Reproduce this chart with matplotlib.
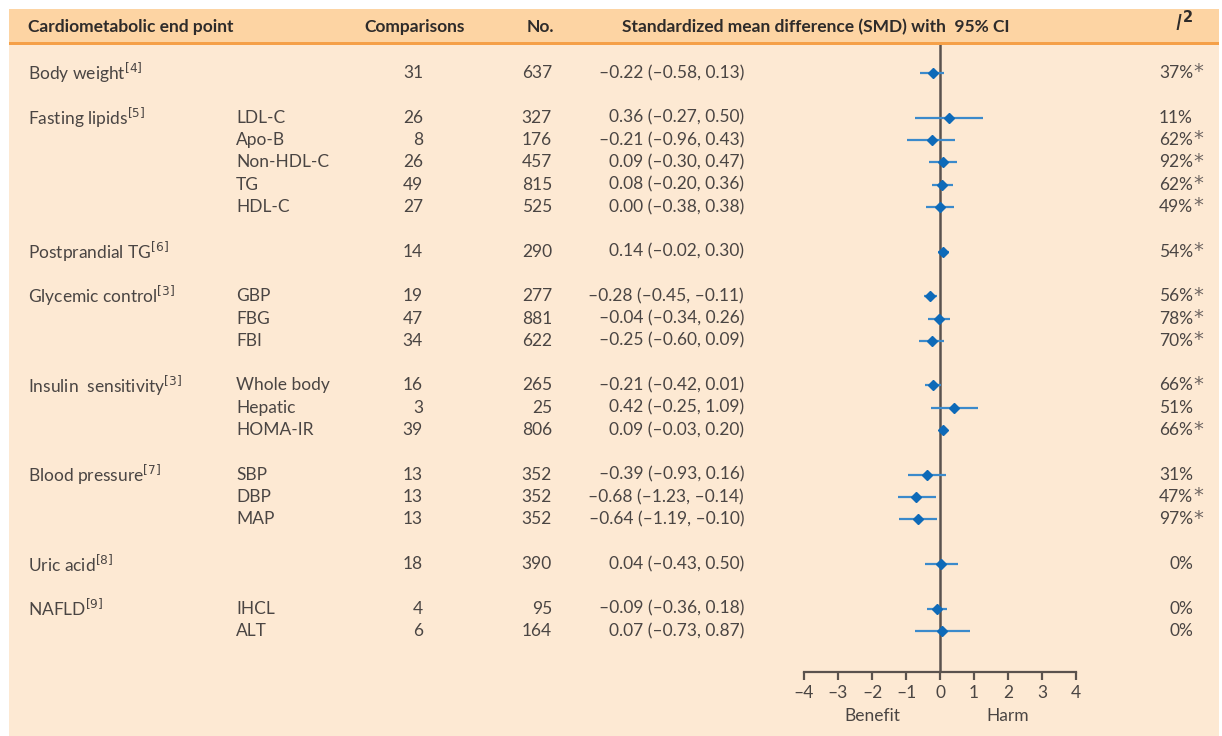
import matplotlib
matplotlib.use("Agg")
import matplotlib.pyplot as plt
from matplotlib.patches import Rectangle
from matplotlib.transforms import blended_transform_factory

# dados da tabela
grupos = ["Body weight$^{[4]}$", "Fasting lipids$^{[5]}$", "Postprandial TG$^{[6]}$",
          "Glycemic control$^{[3]}$", "Insulin  sensitivity$^{[3]}$", "Blood pressure$^{[7]}$",
          "Uric acid$^{[8]}$", "NAFLD$^{[9]}$"]
linha_grupo = [0, 2, 8, 10, 14, 18, 22, 24]

linhas = [0, 2, 3, 4, 5, 6, 8, 10, 11, 12, 14, 15, 16, 18, 19, 20, 22, 24, 25]
subgrupos = ["", "LDL-C", "Apo-B", "Non-HDL-C", "TG", "HDL-C", "", "GBP", "FBG", "FBI",
             "Whole body", "Hepatic", "HOMA-IR", "SBP", "DBP", "MAP", "", "IHCL", "ALT"]
comparacoes = [31, 26, 8, 26, 49, 27, 14, 19, 47, 34, 16, 3, 39, 13, 13, 13, 18, 4, 6]
n_total = [637, 327, 176, 457, 815, 525, 290, 277, 881, 622, 265, 25, 806, 352, 352, 352, 390, 95, 164]
ic_texto = ["–0.22 (–0.58, 0.13)", "0.36 (–0.27, 0.50)", "–0.21 (–0.96, 0.43)",
            "0.09 (–0.30, 0.47)", "0.08 (–0.20, 0.36)", "0.00 (–0.38, 0.38)",
            "0.14 (–0.02, 0.30)", "–0.28 (–0.45, –0.11)", "–0.04 (–0.34, 0.26)",
            "–0.25 (–0.60, 0.09)", "–0.21 (–0.42, 0.01)", "0.42 (–0.25, 1.09)",
            "0.09 (–0.03, 0.20)", "–0.39 (–0.93, 0.16)", "–0.68 (–1.23, –0.14)",
            "–0.64 (–1.19, –0.10)", "0.04 (–0.43, 0.50)", "–0.09 (–0.36, 0.18)",
            "0.07 (–0.73, 0.87)"]
i2 = [37, 11, 62, 92, 62, 49, 54, 56, 78, 70, 66, 51, 66, 31, 47, 97, 0, 0, 0]
i2_sig = [True, False, True, True, True, True, True, True, True, True, True, False, True,
          False, True, True, False, False, False]

# valores (pontos e IC desenhados)
smd = [-0.22, 0.26, -0.23, 0.08, 0.07, 0.00, 0.09, -0.28, -0.03, -0.25, -0.22, 0.41, 0.09,
       -0.39, -0.70, -0.65, 0.03, -0.10, 0.07]
ic_inf = [-0.59, -0.73, -0.97, -0.32, -0.23, -0.40, -0.05, -0.47, -0.35, -0.62, -0.43, -0.26,
          -0.04, -0.95, -1.25, -1.20, -0.44, -0.38, -0.74]
ic_sup = [0.13, 1.25, 0.44, 0.49, 0.38, 0.40, 0.25, -0.10, 0.28, 0.11, 0.03, 1.12, 0.21,
          0.18, -0.12, -0.08, 0.52, 0.20, 0.89]

ticks = [-4, -3, -2, -1, 0, 1, 2, 3, 4]
tick_labels = ["–4", "–3", "–2", "–1", "0", "1", "2", "3", "4"]

W, H = 1222, 736
fundo = "#FDE9D3"
texto = "#4A4543"

plt.rcParams["font.family"] = ["Lato", "DejaVu Sans"]
fig = plt.figure(figsize=(W / 100, H / 100), dpi=100)
fig.patch.set_facecolor("white")

def fx(px):
    return px / W

def fy(py):
    return 1 - py / H

# painel e cabeçalho (zorder negativo para ficar atrás do eixo)
fig.patches.append(Rectangle((fx(9), 0), fx(1219 - 9), fy(9), transform=fig.transFigure,
                             facecolor=fundo, edgecolor="none", zorder=-3))
fig.patches.append(Rectangle((fx(9), fy(42)), fx(1219 - 9), fy(9) - fy(42),
                             transform=fig.transFigure, facecolor="#FDD4A3",
                             edgecolor="none", zorder=-2))
fig.patches.append(Rectangle((fx(9), fy(44.5)), fx(1219 - 9), fy(42) - fy(44.5),
                             transform=fig.transFigure, facecolor="#F5A048",
                             edgecolor="none", zorder=-2))

# eixo do forest plot
r0, dr = 73, 22.32
y_topo, y_base = 44.5, 672
ax = fig.add_axes([fx(804), fy(y_base), fx(1076 - 804), fy(y_topo) - fy(y_base)])
ax.set_facecolor("none")
ax.set_xlim(-4, 4)
ax.set_ylim((y_base - r0) / dr, (y_topo - r0) / dr)
for s in ["top", "left", "right"]:
    ax.spines[s].set_visible(False)
ax.spines["bottom"].set_color("#5A524E")
ax.spines["bottom"].set_linewidth(1.6)
ax.set_yticks([])
ax.set_xticks(ticks)
ax.set_xticklabels(tick_labels)
ax.tick_params(axis="x", direction="out", length=6, width=1.6, color="#5A524E",
               labelsize=12.5, labelcolor=texto, pad=3)
ax.axvline(0, color="#5A524E", lw=1.8, zorder=1)

ax.hlines(linhas, ic_inf, ic_sup, color="#3B8ACB", lw=1.6, zorder=2)
ax.plot(smd, linhas, linestyle="none", marker="D", markersize=5.5, color="#0E6AB8", zorder=3)

trb = blended_transform_factory(ax.transData, ax.transAxes)
ax.text(-2, -0.058, "Benefit", transform=trb, ha="center", va="top", fontsize=12.5, color=texto)
ax.text(2, -0.058, "Harm", transform=trb, ha="center", va="top", fontsize=12.5, color=texto)

# texto da tabela
tr = blended_transform_factory(fig.transFigure, ax.transData)
fs = 12.5
for g, r in zip(grupos, linha_grupo):
    fig.text(fx(28), r, g, transform=tr, ha="left", va="center", fontsize=fs, color=texto)
for i, r in enumerate(linhas):
    fig.text(fx(236), r, subgrupos[i], transform=tr, ha="left", va="center", fontsize=fs, color=texto)
    fig.text(fx(423), r, str(comparacoes[i]), transform=tr, ha="right", va="center", fontsize=fs, color=texto)
    fig.text(fx(552), r, str(n_total[i]), transform=tr, ha="right", va="center", fontsize=fs, color=texto)
    fig.text(fx(744), r, ic_texto[i], transform=tr, ha="right", va="center", fontsize=fs, color=texto)
    fig.text(fx(1193), r, f"{i2[i]}%", transform=tr, ha="right", va="center", fontsize=fs, color=texto)
    if i2_sig[i]:
        fig.text(fx(1193.5), r - 0.05, "*", transform=tr, ha="left", va="center", fontsize=14,
                 color="#6E6663", family="DejaVu Sans")

# cabeçalho
hy = fy(27)
cab = dict(fontsize=12.5, fontweight="bold", color="#2E2B2A", va="center")
fig.text(fx(28), hy, "Cardiometabolic end point", ha="left", **cab)
fig.text(fx(415), hy, "Comparisons", ha="center", **cab)
fig.text(fx(540), hy, "No.", ha="center", **cab)
fig.text(fx(622), hy, "Standardized mean difference (SMD) with  95% CI", ha="left", **cab)
fig.text(fx(1194), fy(23), "$\\mathit{I}^{\\mathbf{2}}$", ha="right", va="center",
         fontsize=15, color="#2E2B2A")

fig.savefig("out.png", dpi=100, facecolor=fig.get_facecolor())
